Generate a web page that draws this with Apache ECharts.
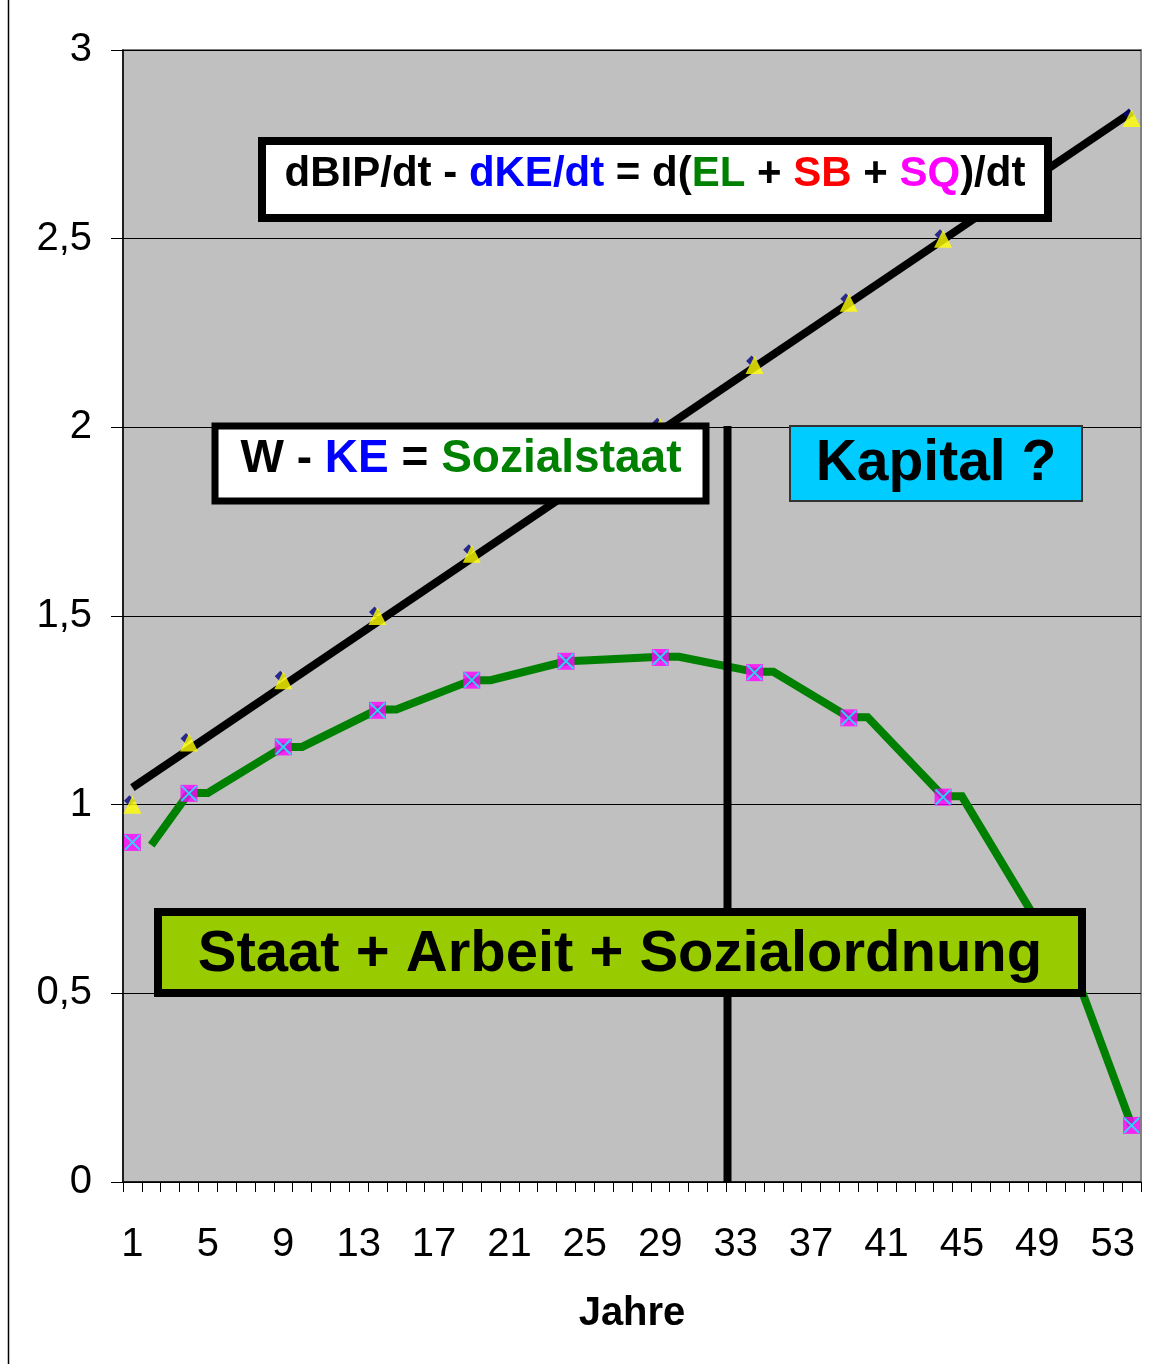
<!DOCTYPE html>
<html>
<head>
<meta charset="utf-8">
<script src="https://cdn.jsdelivr.net/npm/echarts@6/dist/echarts.min.js"></script>
<style>
  html, body { margin: 0; padding: 0; background: #fff; }
  #chart { width: 1155px; height: 1364px; }
</style>
</head>
<body>
<div id="chart"></div>
<script>
// Jahre 1..54
var years = ["1","2","3","4","5","6","7","8","9","10","11","12","13","14","15","16","17","18",
  "19","20","21","22","23","24","25","26","27","28","29","30","31","32","33","34","35","36",
  "37","38","39","40","41","42","43","44","45","46","47","48","49","50","51","52","53","54"];

// schwarze Gerade (dBIP/dt)
var trendYears = ["1", "54"];
var trendValues = [1.045, 2.835];

// gruene Linie (Sozialstaat)
var greenYears = ["2","4","5","9","10","14","15","19","20","24","25","29","30","34","35","39","40","44","45","49","50","54"];
var greenValues = [0.893, 1.031, 1.031, 1.153, 1.153, 1.252, 1.252, 1.33, 1.33, 1.38, 1.382, 1.392, 1.392,
  1.352, 1.352, 1.232, 1.232, 1.022, 1.022, 0.69, 0.69, 0.151];

// Punkte: gelbe Dreiecke
var triYears = ["1","4","9","14","19","24","29","34","39","44","49","54"];
var triValues = [1.0, 1.165, 1.33, 1.5, 1.665, 1.83, 2.0, 2.165, 2.33, 2.5, 2.665, 2.82];

// Punkte: magenta Quadrate
var sqYears = ["1","4","9","14","19","24","29","34","39","44","49","54"];
var sqValues = [0.9, 1.03, 1.153, 1.25, 1.33, 1.38, 1.39, 1.35, 1.23, 1.02, 0.69, 0.15];

var font = "'Liberation Sans', Arial, sans-serif";

function pairs(xs, ys) {
  return xs.map(function (x, i) { return [x, ys[i]]; });
}

var myChart = echarts.init(document.getElementById("chart"));

var option = {
  backgroundColor: "#ffffff",
  animation: false,
  grid: {
    left: 123,
    right: 14,
    top: 50,
    bottom: 182,
    show: true,
    backgroundColor: "#c0c0c0",
    borderColor: "#808080",
    borderWidth: 2
  },
  xAxis: {
    type: "category",
    data: years,
    boundaryGap: true,
    name: "Jahre",
    nameLocation: "middle",
    nameGap: 112,
    nameTextStyle: { fontFamily: font, fontWeight: "bold", fontSize: 40, color: "#000" },
    axisLine: { lineStyle: { color: "#000", width: 1.5 } },
    axisTick: { show: true, interval: 0, length: 10, lineStyle: { color: "#000" } },
    axisLabel: { interval: 3, fontFamily: font, fontSize: 40, color: "#000", margin: 43 },
    splitLine: { show: false }
  },
  yAxis: {
    type: "value",
    min: 0,
    max: 3,
    interval: 0.5,
    axisLine: { show: true, lineStyle: { color: "#000", width: 1.5 } },
    axisTick: { show: true, length: 12, lineStyle: { color: "#000" } },
    axisLabel: {
      fontFamily: font, fontSize: 40, color: "#000", margin: 31,
      formatter: function (v) { return String(v).replace(".", ","); }
    },
    splitLine: { show: true, lineStyle: { color: "#000", width: 1 } }
  },
  series: [
    {
      name: "dBIP",
      type: "line",
      data: pairs(trendYears, trendValues),
      symbol: "none",
      lineStyle: { color: "#000", width: 8 },
      z: 3
    },
    {
      name: "Sozialstaat",
      type: "line",
      data: pairs(greenYears, greenValues),
      symbol: "none",
      lineStyle: { color: "#008000", width: 8, join: "miter" },
      z: 3
    },
    {
      type: "scatter",
      data: pairs(triYears, triValues),
      symbol: "diamond",
      symbolSize: 11,
      symbolOffset: [-3, -4],
      itemStyle: { color: "#000080" },
      z: 4
    },
    {
      type: "scatter",
      data: pairs(triYears, triValues),
      symbol: "triangle",
      symbolSize: 18,
      itemStyle: { color: "#ffff00" },
      z: 5
    },
    {
      type: "scatter",
      data: pairs(sqYears, sqValues),
      symbol: "rect",
      symbolSize: 17,
      itemStyle: { color: "#ff00ff" },
      z: 5
    },
    {
      type: "scatter",
      data: pairs(sqYears, sqValues),
      symbol: "path://M0,0L10,10M10,0L0,10",
      symbolSize: 15,
      itemStyle: { color: "none", borderColor: "#00ffff", borderWidth: 2 },
      z: 6
    }
  ],
  graphic: [
    // Rahmen links
    { type: "line", shape: { x1: 8.5, y1: 0, x2: 8.5, y2: 1364 }, style: { stroke: "#000", lineWidth: 1.5 }, z: 100 },
    // senkrechte Trennlinie
    { type: "line", shape: { x1: 727.5, y1: 426, x2: 727.5, y2: 1182 }, style: { stroke: "#000", lineWidth: 8 }, z: 100 },
    // Box 1
    { type: "rect", shape: { x: 262, y: 141, width: 786, height: 77 },
      style: { fill: "#fff", stroke: "#000", lineWidth: 8 }, z: 101 },
    { type: "text", x: 655, y: 174, z: 102,
      style: {
        text: "{k|dBIP/dt - }{b|dKE/dt}{k| = d(}{g|EL}{k| + }{r|SB}{k| + }{m|SQ}{k|)/dt}",
        align: "center", verticalAlign: "middle",
        font: "bold 42px " + font,
        rich: {
          k: { fill: "#000", fontSize: 42, fontWeight: "bold", fontFamily: font },
          b: { fill: "#0000ff", fontSize: 42, fontWeight: "bold", fontFamily: font },
          g: { fill: "#008000", fontSize: 42, fontWeight: "bold", fontFamily: font },
          r: { fill: "#ff0000", fontSize: 42, fontWeight: "bold", fontFamily: font },
          m: { fill: "#ff00ff", fontSize: 42, fontWeight: "bold", fontFamily: font }
        }
      } },
    // Box 2
    { type: "rect", shape: { x: 215, y: 426, width: 491, height: 75 },
      style: { fill: "#fff", stroke: "#000", lineWidth: 7 }, z: 101 },
    { type: "text", x: 461, y: 459, z: 102,
      style: {
        text: "{k|W - }{b|KE}{k| = }{g|Sozialstaat}",
        align: "center", verticalAlign: "middle",
        font: "bold 46px " + font,
        rich: {
          k: { fill: "#000", fontSize: 46, fontWeight: "bold", fontFamily: font },
          b: { fill: "#0000ff", fontSize: 46, fontWeight: "bold", fontFamily: font },
          g: { fill: "#008000", fontSize: 46, fontWeight: "bold", fontFamily: font }
        }
      } },
    // Box 3
    { type: "rect", shape: { x: 790, y: 426, width: 292, height: 75 },
      style: { fill: "#00ccff", stroke: "#333", lineWidth: 2 }, z: 101 },
    { type: "text", x: 936, y: 464, z: 102,
      style: { text: "Kapital ?", align: "center", verticalAlign: "middle",
        font: "bold 57px " + font, fill: "#000" } },
    // Box 4
    { type: "rect", shape: { x: 158, y: 912, width: 924, height: 81 },
      style: { fill: "#99cc00", stroke: "#000", lineWidth: 8 }, z: 101 },
    { type: "text", x: 620, y: 955, z: 102,
      style: { text: "Staat + Arbeit + Sozialordnung", align: "center", verticalAlign: "middle",
        font: "bold 58px " + font, fill: "#000" } }
  ]
};

myChart.setOption(option);
</script>
</body>
</html>
